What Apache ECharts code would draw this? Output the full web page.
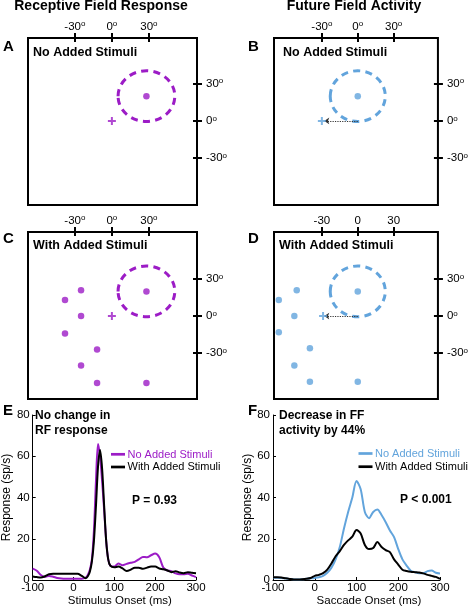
<!DOCTYPE html>
<html><head><meta charset="utf-8">
<script src="https://cdn.jsdelivr.net/npm/echarts@6/dist/echarts.min.js"></script>
<style>html,body{margin:0;padding:0;background:#fff}#c{width:471px;height:608px}</style>
</head><body><div id="c"></div>
<script>
const FONT = '"Liberation Sans", Arial, Helvetica, sans-serif';
const PURPLE = '#9c1cc6';
const BLUE = '#62a4dc';

// ---------- Panels A-D : visual field (degrees) ----------
const mapTicks = [-30, 0, 30];
const rfCenterRF = [[28, 20]];   // A & C
const rfCenterFF = [[0, 20]];    // B & D
const rfRadius = [23, 20.5];
const fixationA = [[0, 0]];
const fixationB = [[-30, 0]];
const fixationC = [[0, 0]];
const fixationD = [[-29, 0]];
const shiftArrowB = [[0, 0], [-28, 0]];
const shiftArrowD = [[0, 0], [-28, 0]];
const stimuliC = [[-25, 21], [-38, 13], [-25, 0], [-38, -14], [-12, -27], [-25, -40], [-12, -54], [28, -54]];
const stimuliD = [[-51, 21], [-66, 13], [-53, 0], [-66, -13], [-40, -26], [-53, -40], [-40, -53], [0, -53]];

// ---------- Panel E : RF response vs stimulus onset ----------
const timeE = [-100,-90,-80,-70,-60,-50,-40,-30,-20,-10,0,10,20,30,35,40,45,50,55,60,65,70,75,80,85,90,100,110,120,130,140,150,160,170,180,190,200,210,220,230,240,250,260,270,280,290,300];
const noAddedE = [5.5,4.5,2.4,1.5,2.0,1.6,1.0,0.7,0.6,0.6,0.6,0.6,0.6,1.2,2.5,5,10,24,48,66,60,48,34,19,10,7,6.5,8,7.2,7.8,8.4,8.8,10,11.2,11,12,12.8,11,6,4.6,4.3,3.2,2.8,2.8,3,2.2,1.4];
const withAddedE = [1.7,1.4,1.2,1.8,2.8,3,3,3,3,3,3,3,2,0.9,1.8,4,9,19,36,55,63,54,36,19,10,7,6.2,6.5,5.6,4.4,5,6,6,5.4,6,6.5,6.5,5.6,5.2,4.6,3.8,4.3,3.6,3.3,3.8,3.5,3.3];

// ---------- Panel F : FF activity vs saccade onset ----------
const timeF = [-100,-90,-80,-70,-60,-50,-40,-30,-20,-10,0,10,20,30,40,50,60,70,80,90,100,110,120,130,140,150,160,170,180,190,200,210,220,230,240,250,260,270,280,290,300];
const noAddedF = [1.2,1.1,1.0,0.8,0.5,0.3,0.3,0.4,0.6,0.8,1.0,1.3,2,3.5,6,10,16,25,33,40,48,44,33,30,33,34.2,31.5,28,24,20.8,15,10,7,4.5,3.8,3.3,3.3,4.3,4.6,3.5,3.2];
const withAddedF = [1.3,1.3,1.2,0.8,0.5,0.3,0.3,0.4,0.6,1,2,2.5,3.3,5,8,11.5,14,17,19.2,21,24.2,22.5,17,15,15.5,18.4,16,14.5,13.5,10,7.5,5,4.4,4,3.8,3.6,3.2,2.5,2,1.5,0.5];

const pairs = (xs, ys) => xs.map((x, i) => [x, ys[i]]);

const rich = {
  v: {fontSize: 11.5, fontFamily: FONT, color: '#000', lineHeight: 13},
  s: {fontSize: 8, fontFamily: FONT, color: '#000', lineHeight: 8, verticalAlign: 'top'}
};
const degFmt = v => '{v|' + v + '}{s|o}';
const plainFmt = v => '{v|' + v + '}';

function mapX(g, min, max, fmt) {
  return {gridIndex: g, type: 'value', position: 'top', min, max, offset: -4,
    axisLine: {show: false, onZero: false}, splitLine: {show: false},
    axisTick: {show: true, customValues: mapTicks, length: 9, lineStyle: {color: '#000', width: 2}},
    axisLabel: {show: true, customValues: mapTicks, margin: 9, formatter: fmt, rich}};
}
function mapY(g, min, max) {
  return {gridIndex: g, type: 'value', position: 'right', min, max, offset: -4,
    axisLine: {show: false, onZero: false}, splitLine: {show: false},
    axisTick: {show: true, customValues: mapTicks, length: 9, lineStyle: {color: '#000', width: 2}},
    axisLabel: {show: true, customValues: mapTicks, margin: 13, formatter: degFmt, rich, align: 'left'}};
}
function respX(g, name, shift) {
  return {gridIndex: g, type: 'value', min: -100, max: 300, interval: 100,
    axisLine: {show: true, onZero: false, lineStyle: {color: '#000', width: 1}},
    axisTick: {show: true, inside: true, length: 3, lineStyle: {color: '#000'}},
    axisLabel: {color: '#000', fontSize: 11.5, fontFamily: FONT, margin: 2},
    splitLine: {show: false},
    name, nameLocation: 'middle', nameGap: 14,
    nameTextStyle: {color: '#000', fontSize: 11.5, fontFamily: FONT, padding: [0, 0, 0, shift]}};
}
function respY(g) {
  return {gridIndex: g, type: 'value', min: 0, max: 80, interval: 20,
    axisLine: {show: true, onZero: false, lineStyle: {color: '#000', width: 1}},
    axisTick: {show: true, inside: true, length: 3, lineStyle: {color: '#000'}},
    axisLabel: {color: '#000', fontSize: 11.5, fontFamily: FONT, margin: 3},
    splitLine: {show: false},
    name: 'Response (sp/s)', nameLocation: 'middle', nameRotate: 90, nameGap: 15,
    nameTextStyle: {color: '#000', fontSize: 12, fontFamily: FONT}};
}

function rfSeries(idx, center, color) {
  return {type: 'custom', xAxisIndex: idx, yAxisIndex: idx, silent: true, clip: false,
    data: center.map(c => [c[0], c[1], rfRadius[0], rfRadius[1]]),
    renderItem: (params, api) => {
      const c = api.coord([api.value(0), api.value(1)]);
      const s = api.size([api.value(2), api.value(3)]);
      return {type: 'ellipse', shape: {cx: c[0], cy: c[1], rx: s[0], ry: s[1]},
        style: {fill: 'none', stroke: color, lineWidth: 3, lineDash: [7, 5.3]}};
    }};
}
function dotSeries(idx, data, color) {
  return {type: 'scatter', xAxisIndex: idx, yAxisIndex: idx, data, symbol: 'circle', symbolSize: 6.5,
    itemStyle: {color}, silent: true, z: 4};
}
function plusSeries(idx, data, color) {
  return {type: 'scatter', xAxisIndex: idx, yAxisIndex: idx, data,
    symbol: 'path://M3,0H5V3H8V5H5V8H3V5H0V3H3Z', symbolSize: 8, itemStyle: {color}, silent: true, z: 5};
}
function arrowSeries(idx, coords) {
  return {type: 'lines', coordinateSystem: 'cartesian2d', xAxisIndex: idx, yAxisIndex: idx,
    data: [{coords}], symbol: ['none', 'arrow'], symbolSize: 5, silent: true, z: 3,
    lineStyle: {color: '#333', width: 1.2, type: 'dotted', opacity: 1}};
}
function curve(idx, name, xs, ys, color, z) {
  return {type: 'line', name, xAxisIndex: idx, yAxisIndex: idx, data: pairs(xs, ys),
    showSymbol: false, symbol: 'none', smooth: 0.3, silent: true, z,
    lineStyle: {color, width: 2}, itemStyle: {color}};
}

function txt(text, x, y, size, opts) {
  opts = opts || {};
  return {type: 'text', x, y, silent: true, rotation: opts.rotation || 0,
    style: {text, fontSize: size, fontWeight: opts.weight || 'bold', fontFamily: FONT,
      fill: opts.color || '#000', align: opts.align || 'left', verticalAlign: 'middle'}};
}
function legendLine(x, y, color) {
  return {type: 'line', silent: true, shape: {x1: x, y1: y, x2: x + 14, y2: y},
    style: {stroke: color, lineWidth: 2.7}};
}

const boxGrid = {show: true, borderColor: '#000', borderWidth: 2, backgroundColor: 'transparent'};

const option = {
  animation: false,
  grid: [
    Object.assign({left: 28, top: 38, width: 169, height: 167}, boxGrid),
    Object.assign({left: 274, top: 38, width: 169, height: 167}, boxGrid),
    Object.assign({left: 28, top: 232, width: 169, height: 167}, boxGrid),
    Object.assign({left: 274, top: 232, width: 169, height: 167}, boxGrid),
    {left: 28, top: 415, width: 168, height: 165},
    {left: 273, top: 415, width: 167, height: 165}
  ],
  xAxis: [
    mapX(0, -68, 69, degFmt), mapX(1, -70, 67, degFmt),
    mapX(2, -68, 69, degFmt), mapX(3, -70, 67, plainFmt),
    respX(4, 'Stimulus Onset (ms)', 11), respX(5, 'Saccade Onset (ms)', 25)
  ],
  yAxis: [
    mapY(0, -68, 67), mapY(1, -68, 67), mapY(2, -67, 68), mapY(3, -67, 68),
    respY(4), respY(5)
  ],
  series: [
    rfSeries(0, rfCenterRF, PURPLE), dotSeries(0, rfCenterRF, PURPLE), plusSeries(0, fixationA, PURPLE),
    rfSeries(1, rfCenterFF, BLUE), dotSeries(1, rfCenterFF, BLUE), plusSeries(1, fixationB, BLUE), arrowSeries(1, shiftArrowB),
    rfSeries(2, rfCenterRF, PURPLE), dotSeries(2, rfCenterRF.concat(stimuliC), PURPLE), plusSeries(2, fixationC, PURPLE),
    rfSeries(3, rfCenterFF, BLUE), dotSeries(3, rfCenterFF.concat(stimuliD), BLUE), plusSeries(3, fixationD, BLUE), arrowSeries(3, shiftArrowD),
    curve(4, 'No Added Stimuli', timeE, noAddedE, PURPLE, 2),
    curve(4, 'With Added Stimuli', timeE, withAddedE, '#000', 3),
    curve(5, 'No Added Stimuli', timeF, noAddedF, BLUE, 2),
    curve(5, 'With Added Stimuli', timeF, withAddedF, '#000', 3)
  ],
  graphic: [
    txt('Receptive Field Response', 101, 6.5, 14, {align: 'center'}),
    txt('Future Field Activity', 354, 6.5, 14, {align: 'center'}),
    txt('A', 3, 47.2, 15), txt('B', 248, 47.2, 15),
    txt('C', 3, 238.7, 15), txt('D', 248, 238.7, 15),
    txt('E', 3, 411.3, 15), txt('F', 248, 411.3, 15),
    txt('No Added Stimuli', 33, 52.2, 12.5), txt('No Added Stimuli', 283, 52.2, 12.5),
    txt('With Added Stimuli', 33, 245.8, 12.5), txt('With Added Stimuli', 279, 245.8, 12.5),
    txt('No change in', 35, 415.8, 12), txt('RF response', 35, 430.2, 12),
    txt('Decrease in FF', 279, 415.8, 12), txt('activity by 44%', 279, 430.2, 12),
    txt('P = 0.93', 132, 500.7, 12), txt('P < 0.001', 400, 500, 12),
    legendLine(111, 454.3, PURPLE), txt('No Added Stimuli', 127.5, 454.5, 11, {weight: 'normal', color: PURPLE}),
    legendLine(111, 467, '#000'), txt('With Added Stimuli', 127.5, 467, 11, {weight: 'normal'}),
    legendLine(358.5, 453.5, BLUE), txt('No Added Stimuli', 375, 453.7, 11, {weight: 'normal', color: BLUE}),
    legendLine(358.5, 466.7, '#000'), txt('With Added Stimuli', 375, 466.7, 11, {weight: 'normal'})
  ]
};

const chart = echarts.init(document.getElementById('c'), null, {renderer: 'canvas'});
chart.setOption(option);
</script>
</body></html>
